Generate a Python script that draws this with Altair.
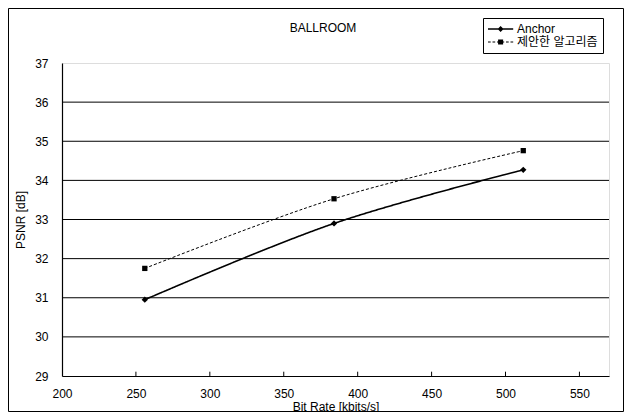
import altair as alt
import pandas as pd

rates = [256, 384, 512]
anchor = [30.95, 32.90, 34.27]
proposed = [31.75, 33.53, 34.76]
series_names = ["Anchor", "제안한 알고리즘"]
chart_title = ["BALLROOM"]
x_ticks = [200, 250, 300, 350, 400, 450, 500, 550]
y_ticks = [29, 30, 31, 32, 33, 34, 35, 36, 37]
grid_vals = [30, 31, 32, 33, 34, 35, 36]
inner_ticks = [250, 300, 350, 400, 450, 500, 550]

rows = []
for r, a in zip(rates, anchor):
    rows.append({"rate": r, "psnr": a, "series": series_names[0]})
for r, p in zip(rates, proposed):
    rows.append({"rate": r, "psnr": p, "series": series_names[1]})
df = pd.DataFrame(rows)
grid_df = pd.DataFrame({"v": grid_vals})
tick_df = pd.DataFrame({"t": inner_ticks})

FONT = "Liberation Sans, Arial, Noto Sans CJK KR"
W, H = 547, 313

xscale = alt.Scale(domain=[200, 570], nice=False, zero=False)
yscale = alt.Scale(domain=[29, 37], nice=False, zero=False)

xaxis = alt.Axis(values=x_ticks, title="Bit Rate [kbits/s]", grid=False, ticks=False,
                 labelPadding=12, titlePadding=2, domainColor="black", domainWidth=1.2,
                 labelFontSize=12, titleFontSize=12, titleFontWeight="normal",
                 labelColor="black", titleColor="black", labelFont=FONT, titleFont=FONT,
                 labelOverlap=False, labelFlush=False)
yaxis = alt.Axis(values=y_ticks, title="PSNR [dB]", grid=False, ticks=False,
                 labelPadding=14, titlePadding=7, domainColor="black", domainWidth=1.2,
                 labelFontSize=12, titleFontSize=12, titleFontWeight="normal",
                 labelColor="black", titleColor="black", labelFont=FONT, titleFont=FONT,
                 labelOverlap=False, labelFlush=False)


# legend symbols drawn as filled paths (unit = 6 px): a line sample plus the marker
def rect(x0, x1, h):
    return f"M{x0:.3f},{-h:.3f}H{x1:.3f}V{h:.3f}H{x0:.3f}Z"

solid_line = rect(-1, 3.2, 0.13)
dash_parts = []
x = -1.0
while x < 3.2:
    dash_parts.append(rect(x, min(x + 0.45, 3.2), 0.09))
    x += 0.75
dashed_line = "".join(dash_parts)
legend_paths = [solid_line + "M0.6,0L1.1,-0.5L1.6,0L1.1,0.5Z",
                dashed_line + "M0.68,-0.42H1.52V0.42H0.68Z"]

legend = alt.Legend(
    orient="none", legendX=421, legendY=-45, title=None,
    symbolSize=144, strokeColor="black", fillColor="white", padding=5,
    rowPadding=1, labelFontSize=12, labelFont=FONT, labelColor="black",
    labelOffset=17, cornerRadius=0, symbolFillColor="black",
    symbolStrokeColor="black", symbolStrokeWidth=0,
)

base = alt.Chart(df)

grid = alt.Chart(grid_df).mark_rule(color="black", strokeWidth=1).encode(
    y=alt.Y("v:Q", scale=yscale, axis=yaxis)
)

ticks = alt.Chart(tick_df).transform_calculate(
    y0="29", y1="29.11"
).mark_rule(color="black", strokeWidth=1).encode(
    x=alt.X("t:Q", scale=xscale, axis=xaxis),
    y=alt.Y("y0:Q", scale=yscale, axis=yaxis),
    y2="y1:Q",
)

lines = base.mark_line(interpolate="catmull-rom", color="black").encode(
    x=alt.X("rate:Q", scale=xscale, axis=xaxis),
    y=alt.Y("psnr:Q", scale=yscale, axis=yaxis),
    strokeDash=alt.StrokeDash("series:N", sort=series_names,
                              scale=alt.Scale(domain=series_names, range=[[1, 0], [3, 2]]),
                              legend=None),
    strokeWidth=alt.StrokeWidth("series:N",
                                scale=alt.Scale(domain=series_names, range=[1.6, 1]),
                                legend=None),
)

points = base.mark_point(filled=True, color="black", opacity=1).encode(
    x=alt.X("rate:Q", scale=xscale, axis=xaxis),
    y=alt.Y("psnr:Q", scale=yscale, axis=yaxis),
    shape=alt.Shape("series:N", scale=alt.Scale(domain=series_names, range=["diamond", "square"]),
                    legend=None),
    size=alt.Size("series:N", scale=alt.Scale(domain=series_names, range=[40, 28]), legend=None),
)

legend_layer = base.transform_filter("false").mark_point(
    filled=True, color="black", opacity=1
).encode(
    x=alt.X("rate:Q", scale=xscale, axis=xaxis),
    y=alt.Y("psnr:Q", scale=yscale, axis=yaxis),
    shape=alt.Shape("series:N", sort=series_names,
                    scale=alt.Scale(domain=series_names, range=legend_paths),
                    legend=legend),
)

title_layer = alt.Chart(pd.DataFrame({"t": chart_title})).mark_text(
    fontSize=12, font=FONT, color="black", align="center", baseline="middle"
).encode(
    text="t:N", x=alt.value(261), y=alt.value(-35.5)
)

frame = alt.Chart(pd.DataFrame({"k": [0]})).mark_rect(
    fill=None, stroke="black", strokeWidth=1
).encode(
    x=alt.value(-53.5), x2=alt.value(W + 14.5),
    y=alt.value(-54.5), y2=alt.value(H + 35.5),
)

chart = alt.layer(frame, grid, ticks, lines, points, legend_layer, title_layer).resolve_scale(
    shape="independent", strokeDash="independent", size="independent", strokeWidth="independent"
).properties(
    width=W, height=H,
    autosize=alt.AutoSizeParams(type="none"),
    padding={"left": 54, "top": 55, "right": 15, "bottom": 36},
).configure_view(
    stroke="black", strokeDash=[1, 1], strokeWidth=1
).configure(background="white")

chart.save("out.html", embed_options={"renderer": "svg", "actions": False})
